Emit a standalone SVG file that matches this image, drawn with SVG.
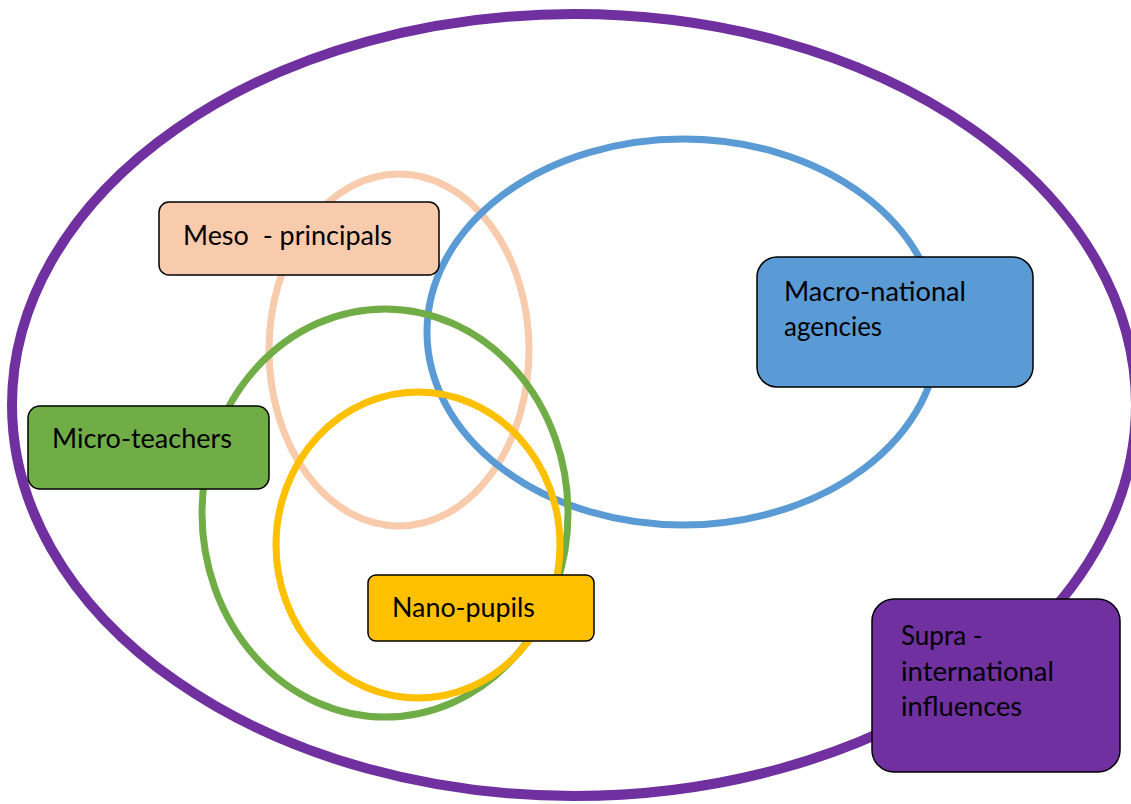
<svg xmlns="http://www.w3.org/2000/svg" width="1131" height="804" viewBox="0 0 1131 804">
  <style>
    .ring { fill: none; stroke-width: 7; }
    .box { stroke: #000; stroke-width: 1.5; }
    .lbl { font-family: Lato, "Liberation Sans", sans-serif; font-size: 26px; fill: #000; white-space: pre; }
  </style>
  <rect width="1131" height="804" fill="#fff"/>

  <!-- nested level rings -->
  <g id="rings">
    <ellipse id="ring-supra" class="ring" cx="574" cy="405" rx="562" ry="391" stroke="#7030A0" style="stroke-width:10"/>
    <ellipse id="ring-meso" class="ring" cx="399" cy="350" rx="130" ry="176" stroke="#F8CBAD"/>
    <ellipse id="ring-macro" class="ring" cx="683" cy="332" rx="256" ry="193" stroke="#5B9BD5"/>
    <ellipse id="ring-micro" class="ring" cx="385" cy="513" rx="183" ry="204" stroke="#70AD47"/>
    <ellipse id="ring-nano" class="ring" cx="418" cy="545" rx="142" ry="153" stroke="#FFC000"/>
  </g>

  <g id="meso">
    <rect class="box" x="159" y="202" width="280" height="73" rx="10" fill="#F8CBAD"/>
    <text class="lbl" x="183" y="245" textLength="209" lengthAdjust="spacingAndGlyphs">Meso  - principals</text>
  </g>

  <g id="macro">
    <rect class="box" x="757" y="257" width="276" height="130" rx="20" fill="#5B9BD5"/>
    <text class="lbl" x="784" y="301" textLength="182" lengthAdjust="spacingAndGlyphs">Macro-national</text>
    <text class="lbl" x="784" y="336">agencies</text>
  </g>

  <g id="micro">
    <rect class="box" x="28" y="406" width="241" height="83" rx="12" fill="#70AD47"/>
    <text class="lbl" x="52" y="448" textLength="180" lengthAdjust="spacingAndGlyphs">Micro-teachers</text>
  </g>

  <g id="nano">
    <rect class="box" x="368" y="575" width="226" height="66" rx="8" fill="#FFC000"/>
    <text class="lbl" x="392" y="617" textLength="143" lengthAdjust="spacingAndGlyphs">Nano-pupils</text>
  </g>

  <g id="supra">
    <rect class="box" x="872" y="599" width="248" height="173" rx="22" fill="#7030A0"/>
    <text class="lbl" x="901" y="645">Supra -</text>
    <text class="lbl" x="901" y="681" textLength="153" lengthAdjust="spacingAndGlyphs">international</text>
    <text class="lbl" x="901" y="716" textLength="121" lengthAdjust="spacingAndGlyphs">influences</text>
  </g>
</svg>
